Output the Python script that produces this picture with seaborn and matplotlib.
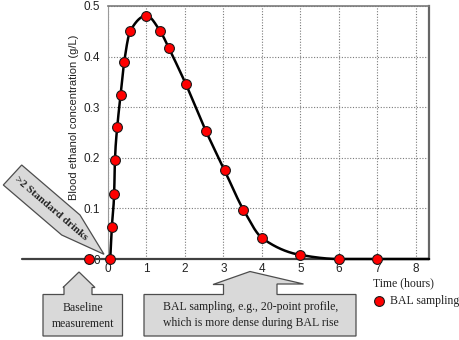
import numpy as np
import matplotlib
matplotlib.use("Agg")
import matplotlib.pyplot as plt
from matplotlib.patches import Polygon
import seaborn as sns

# Sampling times (hours) and blood ethanol concentration (g/L)
time_h = [-0.49, 0.05, 0.10, 0.16, 0.18, 0.24, 0.33, 0.42, 0.58, 1.00,
          1.35, 1.58, 2.02, 2.55, 3.03, 3.52, 4.01, 5.00, 6.00, 7.00]
bal_gl = [0.0, 0.0, 0.064, 0.129, 0.196, 0.261, 0.325, 0.389, 0.451, 0.481,
          0.451, 0.417, 0.346, 0.252, 0.175, 0.097, 0.041, 0.008, 0.0, 0.0]
x_ticks = [0, 1, 2, 3, 4, 5, 6, 7, 8]
y_ticks = [0, 0.1, 0.2, 0.3, 0.4, 0.5]
y_tick_labels = ["0", "0.1", "0.2", "0.3", "0.4", "0.5"]

X_MAX = 8.34
Y_MAX = 0.5

sns.set_style("white")
plt.rcParams["font.family"] = ["Liberation Sans", "DejaVu Sans"]
SERIF = ["Liberation Serif", "DejaVu Serif"]
TXT = "#222222"

W, H = 460, 340
fig = plt.figure(figsize=(W / 100, H / 100), dpi=100)


def fx(x):
    return np.asarray(x, dtype=float) / W


def fy(y):
    return 1 - np.asarray(y, dtype=float) / H


ax = fig.add_axes([108 / W, 1 - 259 / H, (429 - 108) / W, (259 - 6) / H])
ax.set_xlim(0, X_MAX)
ax.set_ylim(0, Y_MAX)


def pchip(x, y, xs):
    """Shape-preserving piecewise cubic Hermite curve through (x, y)."""
    x = np.asarray(x, float)
    y = np.asarray(y, float)
    h = np.diff(x)
    delta = np.diff(y) / h
    d = np.zeros_like(y)
    for k in range(1, len(x) - 1):
        if delta[k - 1] * delta[k] > 0:
            w1 = 2 * h[k] + h[k - 1]
            w2 = h[k] + 2 * h[k - 1]
            d[k] = (w1 + w2) / (w1 / delta[k - 1] + w2 / delta[k])
    d[0] = delta[0] * 0.5
    d[-1] = 0.0
    idx = np.clip(np.searchsorted(x, xs) - 1, 0, len(h) - 1)
    t = (xs - x[idx]) / h[idx]
    h00 = 2 * t**3 - 3 * t**2 + 1
    h10 = t**3 - 2 * t**2 + t
    h01 = -2 * t**3 + 3 * t**2
    h11 = t**3 - t**2
    return (h00 * y[idx] + h10 * h[idx] * d[idx]
            + h01 * y[idx + 1] + h11 * h[idx] * d[idx + 1])


# Smooth concentration-time curve through the post-drinking samples
knot_t = [0.0] + time_h[1:] + [X_MAX]
knot_c = [0.0] + bal_gl[1:] + [0.0]
tt = np.linspace(0, X_MAX, 800)
cc = np.clip(pchip(knot_t, knot_c, tt), 0, None)

# grid and frame
ax.set_xticks(x_ticks)
ax.set_yticks(y_ticks)
ax.set_yticklabels(y_tick_labels)
ax.grid(True, linestyle=(0, (1, 1.5)), color="#7a7a7a", linewidth=0.8)
ax.spines["bottom"].set_visible(False)
ax.spines["left"].set_color("#9a9a9a")
ax.spines["left"].set_linewidth(0.8)
ax.spines["top"].set_color("#7a7a7a")
ax.spines["top"].set_linewidth(1.2)
ax.spines["right"].set_color("#666666")
ax.spines["right"].set_linewidth(1.6)
ax.tick_params(axis="both", length=0, labelsize=8.5, colors=TXT)
ax.tick_params(axis="y", pad=5.5)
ax.tick_params(axis="x", pad=3)

# time axis extended to the left of the origin
ax.plot([(22 - 108) / 38.5, X_MAX], [0, 0], color="#404040", lw=1.6,
        clip_on=False, zorder=2)

sns.lineplot(x=tt, y=cc, ax=ax, color="black", lw=1.8, zorder=3)
for ln in ax.lines:
    ln.set_clip_on(False)

sns.scatterplot(x=time_h, y=bal_gl, ax=ax, s=50, color="#ff0000",
                edgecolor="#1a1a1a", linewidth=0.8, zorder=5, clip_on=False,
                label="BAL sampling")

leg = ax.legend(loc="center left", bbox_to_anchor=(fx(373), fy(301)),
                bbox_transform=fig.transFigure, frameon=False,
                prop={"family": SERIF, "size": 8.5}, handlelength=1.0,
                handletextpad=0.45, borderpad=0, borderaxespad=0)
for t in leg.get_texts():
    t.set_color(TXT)

ax.set_ylabel("Blood ethanol concentration (g/L)", fontsize=8, color=TXT,
              va="center")
ax.yaxis.set_label_coords((74 - 108) / 321, (259 - 117) / 253)
ax.set_xlabel("Time (hours)", fontsize=8.5, color=TXT, family=SERIF,
              va="center")
ax.xaxis.set_label_coords((403.5 - 108) / 321, (259 - 283) / 253)

# call-out shapes
FILL = "#d9d9d9"
EDGE = "#4d4d4d"


def callout(px_pts):
    px_pts = np.array(px_pts, float)
    poly = Polygon(np.column_stack([fx(px_pts[:, 0]), fy(px_pts[:, 1])]),
                   closed=True, transform=fig.transFigure, facecolor=FILL,
                   edgecolor=EDGE, linewidth=0.9, zorder=1)
    fig.add_artist(poly)


callout([(43, 294.5), (64, 294.5), (64, 287.5), (63, 287.5), (79, 272),
         (95, 287.5), (92, 287.5), (92, 294.5), (122.5, 294.5),
         (122.5, 336), (43, 336)])
callout([(144, 294.5), (223.5, 294.5), (223.5, 284.5), (213, 284.5),
         (250, 271.5), (303.5, 284), (277, 284), (277, 294.5),
         (356, 294.5), (356, 336), (144, 336)])
callout([(21.7, 165), (80, 215), (104, 254.3), (61.7, 235), (3.3, 185)])

fig.text(fx(83), fy(316), "Baseline\nmeasurement", ha="center", va="center",
         fontsize=8.5, family=SERIF, color=TXT, linespacing=1.35)
fig.text(fx(250.5), fy(315),
         "BAL sampling, e.g., 20-point profile,\n"
         "which is more dense during BAL rise",
         ha="center", va="center", fontsize=8.5, family=SERIF, color=TXT,
         linespacing=1.35)
fig.text(fx(51), fy(208), ">2 Standard drinks", ha="center", va="center",
         rotation=-40.6, rotation_mode="anchor", fontsize=8,
         fontweight="bold", family=SERIF, color=TXT)

fig.savefig("out.png", dpi=100)
